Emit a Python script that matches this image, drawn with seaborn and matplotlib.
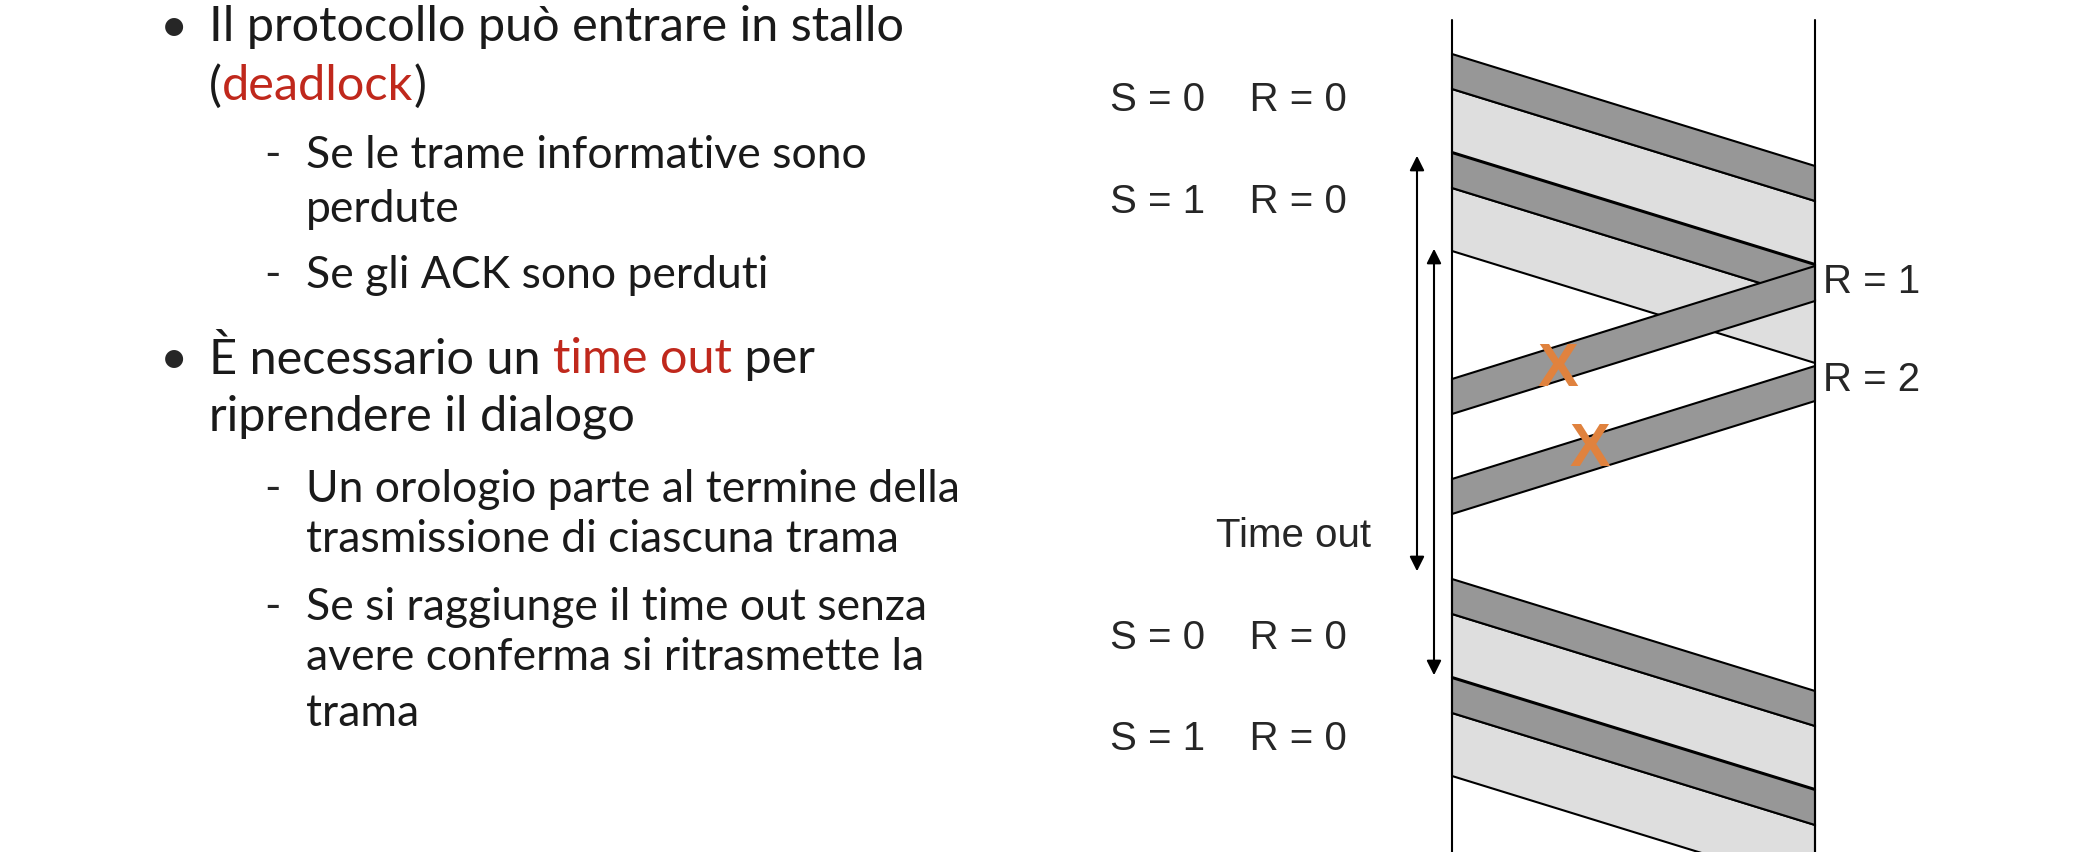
import matplotlib
matplotlib.use("Agg")
import matplotlib.pyplot as plt
import seaborn as sns
from matplotlib.patches import Polygon

sns.set_theme(style="white")
plt.rcParams['font.family'] = ['Lato', 'DejaVu Sans']

W, H = 2084, 852
XL, XR = 1452, 1815
DROP = 112         # vertical travel across the link
DARK = 35          # header thickness
LIGHT = 63         # body thickness
frame_starts = [54, 153, 579, 678]
ack_starts = [266, 366]   # at the right line
lost_marks = [(1558, 371), (1590, 451)]
arrows = [(1417, 153, 574), (1434, 246, 678)]
state_labels = [("S = 0    R = 0", 100), ("S = 1    R = 0", 202), ("S = 0    R = 0", 638), ("S = 1    R = 0", 739)]
recv_labels = [("R = 1", 282), ("R = 2", 380)]
RED = "#C0281C"

bullets = [
    (0, 27, [("Il protocollo può entrare in stallo", "k")], True),
    (0, 86, [("(", "k"), ("deadlock", RED), (")", "k")], False),
    (1, 155, [("Se le trame informative sono", "k")], True),
    (1, 209, [("perdute", "k")], False),
    (1, 276, [("Se gli ACK sono perduti", "k")], True),
    (0, 359, [("È necessario un ", "k"), ("time out", RED), (" per", "k")], True),
    (0, 417, [("riprendere il dialogo", "k")], False),
    (1, 489, [("Un orologio parte al termine della", "k")], True),
    (1, 540, [("trasmissione di ciascuna trama", "k")], False),
    (1, 607, [("Se si raggiunge il time out senza", "k")], True),
    (1, 658, [("avere conferma si ritrasmette la", "k")], False),
    (1, 714, [("trama", "k")], False),
]

fig = plt.figure(figsize=(W/100, H/100), dpi=100)
ax = fig.add_axes([0, 0, 1, 1])
ax.set_xlim(0, W); ax.set_ylim(H, 0); ax.axis("off")

for y in frame_starts:
    ax.add_patch(Polygon([(XL, y+DARK), (XR, y+DARK+DROP), (XR, y+DARK+LIGHT+DROP), (XL, y+DARK+LIGHT)],
                         closed=True, facecolor="#DEDEDE", edgecolor="black", lw=1.5, zorder=2))
for y in frame_starts:
    ax.add_patch(Polygon([(XL, y), (XR, y+DROP), (XR, y+DROP+DARK), (XL, y+DARK)],
                         closed=True, facecolor="#979797", edgecolor="black", lw=1.5, zorder=3))
for y in ack_starts:
    ax.add_patch(Polygon([(XR, y), (XL, y+DROP+1), (XL, y+DROP+1+DARK), (XR, y+DARK)],
                         closed=True, facecolor="#979797", edgecolor="black", lw=1.5, zorder=4))
ax.plot([XL, XL], [20, H], color="black", lw=1.5, zorder=5)
ax.plot([XR, XR], [20, H], color="black", lw=1.5, zorder=5)

for (x, y) in lost_marks:
    ax.text(x, y, "X", color="#E0823E", fontsize=44, fontweight="bold", ha="center", va="center",
            family="Liberation Sans", zorder=6)
for (x, y0, y1) in arrows:
    ax.annotate("", xy=(x, y0), xytext=(x, y1),
                arrowprops=dict(arrowstyle="<|-|>", color="black", lw=1.5, mutation_scale=22), zorder=6)

for t, y in state_labels:
    ax.text(1110, y, t, fontsize=29, family="Liberation Sans", ha="left", va="center")
for t, y in recv_labels:
    ax.text(1823, y, t, fontsize=29, family="Liberation Sans", ha="left", va="center")
ax.text(1293, 536, "Time out", fontsize=29, family="Liberation Sans", ha="center", va="center")

fig.canvas.draw()
r = fig.canvas.get_renderer()
for lvl, y, segs, mark in bullets:
    fs = 35 if lvl == 0 else 32
    tx = 209 if lvl == 0 else 306
    if mark:
        if lvl == 0:
            ax.text(160, y, "•", fontsize=fs, ha="left", va="center")
        else:
            ax.text(264, y, "-", fontsize=fs, ha="left", va="center")
    x = tx
    for s, c in segs:
        t = ax.text(x, y, s, fontsize=fs, color=c, ha="left", va="center")
        bb = t.get_window_extent(renderer=r)
        x += bb.width

fig.savefig("out.png", dpi=100)
